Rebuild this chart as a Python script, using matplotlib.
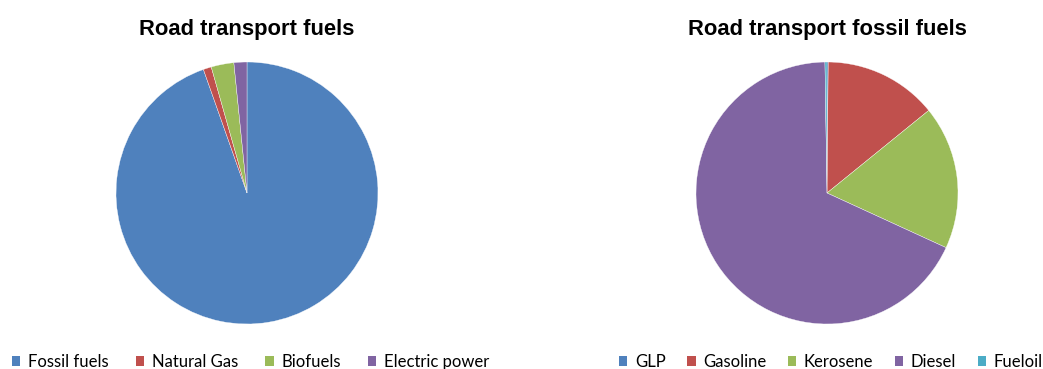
import matplotlib
matplotlib.use("Agg")
import matplotlib.pyplot as plt
from matplotlib.patches import Patch

# Shares of road transport energy use (%)
fuel_labels = ["Fossil fuels", "Natural Gas", "Biofuels", "Electric power"]
fuel_shares = [94.6, 1.0, 2.8, 1.6]

fossil_labels = ["GLP", "Gasoline", "Kerosene", "Diesel", "Fueloil"]
fossil_shares = [0.15, 14.0, 17.7, 67.9, 0.25]

palette = ["#4F81BD", "#C0504D", "#9BBB59", "#8064A2", "#4BACC6"]

W, H = 1043, 369
fig = plt.figure(figsize=(W / 100, H / 100), dpi=100)

title_font = dict(family="Liberation Sans", weight="bold", size=15.8)
legend_font = dict(family="Lato", size=12)


def pie_axes(cx, cy, r):
    return fig.add_axes([(cx - r) / W, (H - cy - r) / H, 2 * r / W, 2 * r / H])


def draw_pie(ax, values, colors):
    ax.pie(values, colors=colors, startangle=90, counterclock=False,
           radius=1.0, wedgeprops=dict(edgecolor="white", linewidth=0.25))
    ax.set_xlim(-1, 1)
    ax.set_ylim(-1, 1)
    ax.set_aspect("equal")
    ax.axis("off")


ax1 = pie_axes(247, 193, 131)
draw_pie(ax1, fuel_shares, palette[:len(fuel_shares)])
fig.text(247 / W, 1 - 29 / H, "Road transport fuels", ha="center", va="center",
         **title_font)

ax2 = pie_axes(827, 193, 131)
draw_pie(ax2, fossil_shares, palette[:len(fossil_shares)])
fig.text(827 / W, 1 - 29 / H, "Road transport fossil fuels", ha="center",
         va="center", **title_font)


def add_legend(labels, colors, x_left, spacing, pad):
    handles = [Patch(facecolor=c, edgecolor="none") for c in colors]
    fig.legend(handles, labels, loc="center left",
               bbox_to_anchor=(x_left / W, 1 - 362 / H), ncol=len(labels),
               frameon=False, prop=legend_font, handlelength=0.5,
               handleheight=0.5, handletextpad=pad, columnspacing=spacing,
               borderpad=0, borderaxespad=0)


add_legend(fuel_labels, palette[:4], 12, 1.62, 0.47)
add_legend(fossil_labels, palette[:5], 619, 1.3, 0.45)

fig.savefig("out.png", dpi=100, facecolor="white")
